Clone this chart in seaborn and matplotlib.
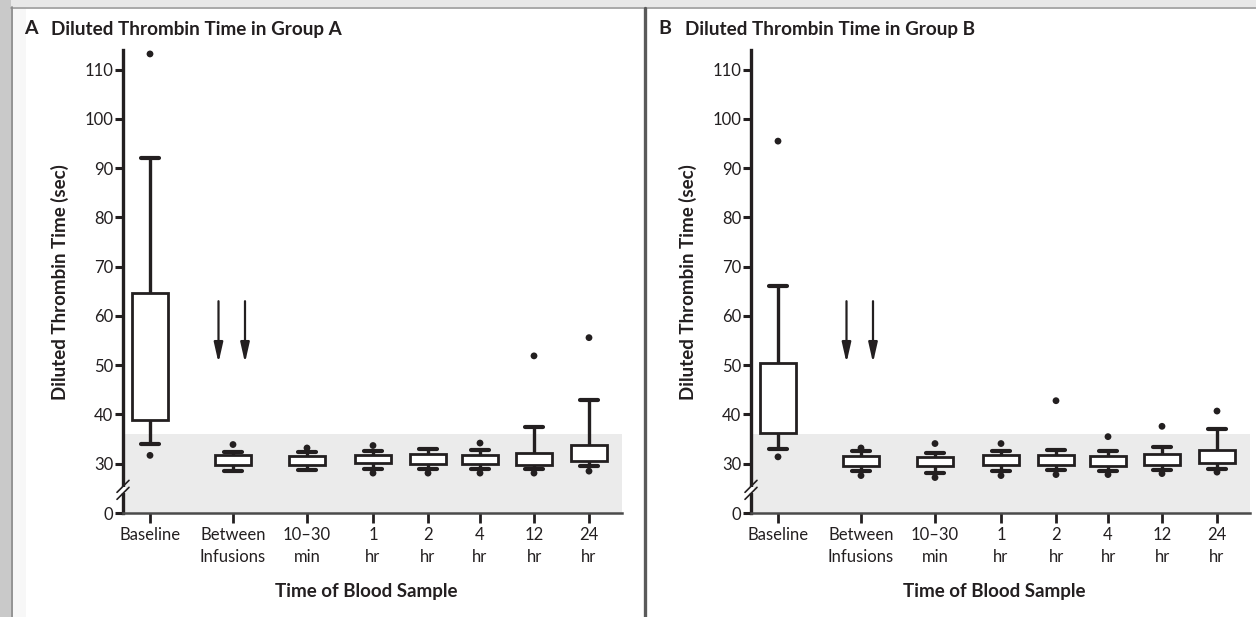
import numpy as np
import pandas as pd
import matplotlib
matplotlib.use("Agg")
import matplotlib.pyplot as plt
import seaborn as sns
from matplotlib.lines import Line2D
from matplotlib.patches import Rectangle

# ---------------- data ----------------
categories = ["Baseline", "Between\nInfusions", "10\u201330\nmin", "1\nhr", "2\nhr", "4\nhr", "12\nhr", "24\nhr"]

a_whislo = [34.0, 28.6, 28.8, 29.0, 29.0, 29.0, 29.0, 29.5]
a_q1     = [38.9, 29.7, 29.8, 30.1, 29.9, 29.9, 29.8, 30.6]
a_med    = [47.3, 30.9, 30.8, 31.0, 30.9, 30.9, 31.2, 31.8]
a_q3     = [64.6, 31.7, 31.5, 31.7, 31.9, 31.7, 32.2, 33.9]
a_whishi = [92.0, 32.4, 32.3, 32.6, 32.9, 32.7, 37.5, 43.0]
a_out_hi = [113.2, 33.9, 33.2, 33.7, None, 34.2, 51.9, 55.6]
a_out_lo = [31.7, None, None, 28.1, 28.1, 28.1, 28.1, 28.5]

b_whislo = [33.0, 28.5, 28.2, 28.5, 28.8, 28.5, 28.8, 29.0]
b_q1     = [36.2, 29.5, 29.5, 29.7, 29.7, 29.5, 29.7, 30.2]
b_med    = [40.9, 30.7, 30.5, 30.7, 30.7, 30.7, 30.7, 31.7]
b_q3     = [50.5, 31.6, 31.4, 31.7, 31.7, 31.5, 31.9, 32.7]
b_whishi = [66.1, 32.6, 32.2, 32.5, 32.8, 32.5, 33.4, 37.0]
b_out_hi = [95.5, 33.2, 34.1, 34.1, 42.8, 35.5, 37.6, 40.7]
b_out_lo = [31.4, 27.6, 27.2, 27.6, 27.8, 27.8, 28.0, 28.3]

normal_upper = 36.0          # upper limit of the normal range (shaded band)
ytick_values = [0, 30, 40, 50, 60, 70, 80, 90, 100, 110]

# ---------------- layout constants ----------------
slot_pos = [27, 110, 184, 250, 305, 357, 411, 466]   # category slots along the axis
arrow_slots = [95.5, 122]
arrow_top, arrow_bottom = 63.0, 50.5
XMAX = 499
YMAX = 114
BREAK_AT = 25.0       # below this the axis is compressed (broken axis)
BREAK_MARK = 23.5

W, H = 1256, 617
FONT = ["Lato", "DejaVu Sans"]
TXT = "#231f20"

sns.set_theme(style="white")
plt.rcParams["font.family"] = FONT

SHIFT = 20.0
LOWK = (BREAK_AT - SHIFT) / BREAK_AT


def fwd(y):
    y = np.asarray(y, dtype=float)
    return np.where(y <= BREAK_AT, y * LOWK, y - SHIFT)


def inv(t):
    t = np.asarray(t, dtype=float)
    return np.where(t <= BREAK_AT - SHIFT, t / LOWK, t + SHIFT)


def build_frames(whislo, q1, med, q3, whishi, out_hi, out_lo):
    rows = []
    for i, p in enumerate(slot_pos):
        for v in (whislo[i], q1[i], med[i], q3[i], whishi[i]):
            rows.append({"pos": p, "val": v})
    box_df = pd.DataFrame(rows)
    pts = []
    for i, p in enumerate(slot_pos):
        for v in (out_hi[i], out_lo[i]):
            if v is not None:
                pts.append({"pos": p, "val": v})
    return box_df, pd.DataFrame(pts)


fig = plt.figure(figsize=(W / 100, H / 100), dpi=100)
fig.patch.set_facecolor("white")

# outer frame decorations
fig.add_artist(Rectangle((0, 1 - 7 / H), 1, 7 / H, transform=fig.transFigure,
                         facecolor="#e8e8e8", edgecolor="none", zorder=0))
fig.add_artist(Line2D([11 / W, 1], [1 - 7.5 / H] * 2, transform=fig.transFigure,
                      color="#9a9a9a", lw=1.2))
fig.add_artist(Rectangle((0, 0), 11 / W, 1, transform=fig.transFigure,
                         facecolor="#c9c9c9", edgecolor="none", zorder=0))
fig.add_artist(Rectangle((12 / W, 0), 14 / W, 1 - 8 / H, transform=fig.transFigure,
                         facecolor="#f7f7f7", edgecolor="none", zorder=0))
fig.add_artist(Line2D([11.5 / W] * 2, [0, 1 - 7 / H], transform=fig.transFigure,
                      color="#8a8a8a", lw=1.3))
fig.add_artist(Line2D([644.5 / W] * 2, [0, 1 - 7.5 / H], transform=fig.transFigure,
                      color="#5a5a5a", lw=2.4))

panels = [
    ("A", 123, (a_whislo, a_q1, a_med, a_q3, a_whishi, a_out_hi, a_out_lo), 24),
    ("B", 751, (b_whislo, b_q1, b_med, b_q3, b_whishi, b_out_hi, b_out_lo), 658),
]

for letter, left_px, stats, title_x in panels:
    ax = fig.add_axes([left_px / W, (H - 513) / H, XMAX / W, (513 - 50) / H])
    ax.set_facecolor("white")
    ax.set_yscale("function", functions=(fwd, inv))
    box_df, pt_df = build_frames(*stats)

    ax.axhspan(0, normal_upper, facecolor="#ebebeb", edgecolor="none", zorder=0)

    sns.boxplot(data=box_df, x="pos", y="val", native_scale=True, whis=np.inf,
                width=36 / 52, color="white", linecolor=TXT, linewidth=2.0,
                showfliers=False, ax=ax,
                capprops={"linewidth": 3.0},
                boxprops={"zorder": 3}, whiskerprops={"linewidth": 2.4},
                medianprops={"linewidth": 2.0})
    sns.scatterplot(data=pt_df, x="pos", y="val", color=TXT, s=24,
                    edgecolor="none", ax=ax, zorder=5, clip_on=False, legend=False)

    for xa in arrow_slots:
        ax.annotate("", xy=(xa, arrow_bottom), xytext=(xa, arrow_top),
                    arrowprops=dict(arrowstyle="-|>,head_length=0.75,head_width=0.17",
                                    color=TXT, lw=1.6,
                                    mutation_scale=16, shrinkA=0, shrinkB=0))

    ax.set_xlim(0, XMAX)
    ax.set_ylim(0, YMAX)
    ax.set_yticks(ytick_values)
    ax.set_yticklabels([str(v) for v in ytick_values])
    ax.yaxis.set_minor_locator(matplotlib.ticker.NullLocator())
    ax.set_xticks(slot_pos)
    ax.set_xticklabels(categories, linespacing=1.45)
    ax.set_xlabel("")
    ax.set_ylabel("")
    for s in ("top", "right"):
        ax.spines[s].set_visible(False)
    ax.spines["left"].set_color(TXT)
    ax.spines["left"].set_linewidth(2.4)
    ax.spines["bottom"].set_color("#4a4a4a")
    ax.spines["bottom"].set_linewidth(1.8)
    ax.tick_params(axis="y", direction="out", length=6, width=2.2, color=TXT,
                   labelsize=12, labelcolor=TXT, pad=1, left=True)
    ax.tick_params(axis="x", direction="out", length=7, width=2.0, color=TXT,
                   labelsize=12, labelcolor=TXT, pad=3, bottom=True)
    ax.grid(False)

    # axis break marks
    fig.canvas.draw()
    bx, by = ax.transData.transform((0, BREAK_MARK))
    to_fig = fig.transFigure.inverted()
    gap = Rectangle(to_fig.transform((bx - 3, by - 3)), 6 / W, 6 / H,
                    transform=fig.transFigure, facecolor="white",
                    edgecolor="none", zorder=10)
    fig.add_artist(gap)
    for dy in (-3.5, 3.5):
        p0 = to_fig.transform((bx - 6, by + dy - 6))
        p1 = to_fig.transform((bx + 6, by + dy + 6))
        fig.add_artist(Line2D([p0[0], p1[0]], [p0[1], p1[1]],
                              transform=fig.transFigure, color=TXT, lw=1.2, zorder=11))

    # titles and labels
    fig.text(title_x / W, 1 - 29 / H, letter, fontsize=14, fontweight="bold",
             color=TXT, ha="left", va="center")
    fig.text((title_x + 27) / W, 1 - 29 / H,
             f"Diluted Thrombin Time in Group {letter}", fontsize=13.6,
             fontweight="bold", color=TXT, ha="left", va="center")
    fig.text((left_px - 63) / W, 1 - 282 / H, "Diluted Thrombin Time (sec)",
             rotation=90, fontsize=13.5, fontweight="bold", color=TXT,
             ha="center", va="center")
    fig.text((left_px + 243) / W, 1 - 591 / H, "Time of Blood Sample",
             fontsize=13.5, fontweight="bold", color=TXT, ha="center", va="center")

fig.savefig("out.png", dpi=100, facecolor=fig.get_facecolor())
